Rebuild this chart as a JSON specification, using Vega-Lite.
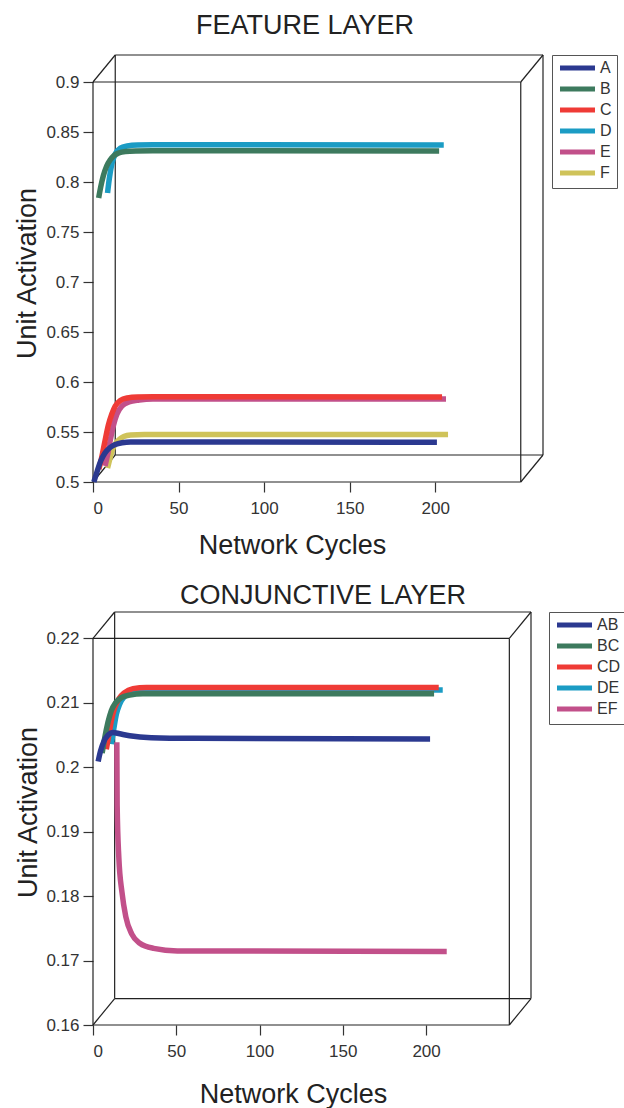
{
  "$schema": "https://vega.github.io/schema/vega-lite/v6.json",
  "padding": {"left": 13, "top": 12, "right": 0, "bottom": 0},
  "autosize": {"type": "pad"},
  "spacing": 23,
  "resolve": {"scale": {"color": "independent"}, "legend": {"color": "independent"}},
  "config": {
    "font": "Liberation Sans",
    "view": {"stroke": null},
    "axis": {"domain": false, "grid": false, "tickSize": 10, "tickColor": "#333", "tickWidth": 1.2, "labelFontSize": 17, "labelColor": "#333", "titleFontSize": 27, "titleFontWeight": "normal", "titleColor": "#222"},
    "axisY": {"labelPadding": 4},
    "axisX": {"labelPadding": 8},
    "title": {"fontSize": 27, "fontWeight": "normal", "color": "#222"},
    "legend": {"title": null, "padding": 5, "strokeColor": "#555", "labelFontSize": 16, "labelColor": "#333", "symbolType": "M-1,0H6", "symbolSize": 100, "symbolStrokeWidth": 5, "labelOffset": 27, "rowPadding": 1}
  },
  "vconcat": [
    {
      "width": 450,
      "height": 427,
      "title": {"text": "FEATURE LAYER", "frame": "group", "anchor": "middle", "dx": -13, "offset": -7, "baseline": "alphabetic"},
      "encoding": {
        "x": {"field": "x", "type": "quantitative", "scale": {"domain": [0, 263], "nice": false, "zero": false}, "axis": {"values": [0, 50, 100, 150, 200], "title": "Network Cycles", "titleX": 199, "titleY": 71, "titleBaseline": "alphabetic"}},
        "y": {"field": "y", "type": "quantitative", "scale": {"domain": [0.5, 0.927], "nice": false, "zero": false}, "axis": {"values": [0.5, 0.55, 0.6, 0.65, 0.7, 0.75, 0.8, 0.85, 0.9], "format": "~g", "title": "Unit Activation", "titleX": -58, "titleY": 218, "titleBaseline": "alphabetic"}}
      },
      "layer": [
        {
          "data": {"values": [
            {"x": 0, "y": 0.5, "x2": 250, "y2": 0.5},
            {"x": 0, "y": 0.9, "x2": 250, "y2": 0.9},
            {"x": 0, "y": 0.5, "x2": 0, "y2": 0.9},
            {"x": 250, "y": 0.5, "x2": 250, "y2": 0.9},
            {"x": 13, "y": 0.527, "x2": 263, "y2": 0.527},
            {"x": 13, "y": 0.927, "x2": 263, "y2": 0.927},
            {"x": 13, "y": 0.527, "x2": 13, "y2": 0.927},
            {"x": 263, "y": 0.527, "x2": 263, "y2": 0.927},
            {"x": 0, "y": 0.5, "x2": 13, "y2": 0.527},
            {"x": 0, "y": 0.9, "x2": 13, "y2": 0.927},
            {"x": 250, "y": 0.5, "x2": 263, "y2": 0.527},
            {"x": 250, "y": 0.9, "x2": 263, "y2": 0.927}
          ]},
          "mark": {"type": "rule", "color": "#222", "strokeWidth": 1.2},
          "encoding": {"x2": {"field": "x2"}, "y2": {"field": "y2"}}
        },
        {
          "data": {"values": [
            {"s": "F", "x": 8.5, "y": 0.514}, {"s": "F", "x": 10, "y": 0.524}, {"s": "F", "x": 11.5, "y": 0.533}, {"s": "F", "x": 13, "y": 0.538}, {"s": "F", "x": 15, "y": 0.542}, {"s": "F", "x": 18, "y": 0.5455}, {"s": "F", "x": 22, "y": 0.547}, {"s": "F", "x": 30, "y": 0.5474}, {"s": "F", "x": 207.5, "y": 0.5474},
            {"s": "E", "x": 7, "y": 0.516}, {"s": "E", "x": 8.5, "y": 0.527}, {"s": "E", "x": 10, "y": 0.541}, {"s": "E", "x": 12, "y": 0.557}, {"s": "E", "x": 14, "y": 0.568}, {"s": "E", "x": 17, "y": 0.576}, {"s": "E", "x": 21, "y": 0.58}, {"s": "E", "x": 27, "y": 0.582}, {"s": "E", "x": 35, "y": 0.583}, {"s": "E", "x": 206.3, "y": 0.583},
            {"s": "D", "x": 8.5, "y": 0.789}, {"s": "D", "x": 9.5, "y": 0.803}, {"s": "D", "x": 11, "y": 0.818}, {"s": "D", "x": 13, "y": 0.828}, {"s": "D", "x": 16, "y": 0.834}, {"s": "D", "x": 20, "y": 0.836}, {"s": "D", "x": 26, "y": 0.837}, {"s": "D", "x": 35, "y": 0.8372}, {"s": "D", "x": 205, "y": 0.837},
            {"s": "C", "x": 3.5, "y": 0.513}, {"s": "C", "x": 5, "y": 0.524}, {"s": "C", "x": 7, "y": 0.541}, {"s": "C", "x": 9, "y": 0.557}, {"s": "C", "x": 11, "y": 0.568}, {"s": "C", "x": 13, "y": 0.576}, {"s": "C", "x": 16, "y": 0.5815}, {"s": "C", "x": 20, "y": 0.584}, {"s": "C", "x": 26, "y": 0.585}, {"s": "C", "x": 35, "y": 0.5852}, {"s": "C", "x": 204, "y": 0.585},
            {"s": "B", "x": 3.3, "y": 0.784}, {"s": "B", "x": 4.5, "y": 0.795}, {"s": "B", "x": 6, "y": 0.806}, {"s": "B", "x": 8, "y": 0.816}, {"s": "B", "x": 10, "y": 0.822}, {"s": "B", "x": 12, "y": 0.826}, {"s": "B", "x": 15, "y": 0.829}, {"s": "B", "x": 19, "y": 0.8305}, {"s": "B", "x": 25, "y": 0.831}, {"s": "B", "x": 35, "y": 0.8312}, {"s": "B", "x": 202.3, "y": 0.831},
            {"s": "A", "x": 0.5, "y": 0.5}, {"s": "A", "x": 2.5, "y": 0.511}, {"s": "A", "x": 4.5, "y": 0.521}, {"s": "A", "x": 7, "y": 0.529}, {"s": "A", "x": 10, "y": 0.5345}, {"s": "A", "x": 13, "y": 0.5375}, {"s": "A", "x": 17, "y": 0.5393}, {"s": "A", "x": 22, "y": 0.54}, {"s": "A", "x": 201, "y": 0.5398}
          ]},
          "mark": {"type": "line", "strokeWidth": 5.5, "interpolate": "monotone", "strokeCap": "butt"},
          "encoding": {
            "color": {"field": "s", "type": "nominal", "scale": {"domain": ["A", "B", "C", "D", "E", "F"], "range": ["#2b3990", "#3d7a5e", "#ef3b36", "#1b9cc4", "#c2508a", "#cfc35a"]}, "legend": {"offset": 9}}
          }
        }
      ]
    },
    {
      "width": 438,
      "height": 413,
      "title": {"text": "CONJUNCTIVE LAYER", "frame": "group", "anchor": "middle", "dx": 11, "offset": -19.5, "baseline": "alphabetic"},
      "encoding": {
        "x": {"field": "x", "type": "quantitative", "scale": {"domain": [0, 263], "nice": false, "zero": false}, "axis": {"values": [0, 50, 100, 150, 200], "title": "Network Cycles", "titleX": 200, "titleY": 77.7, "titleBaseline": "alphabetic"}},
        "y": {"field": "y", "type": "quantitative", "scale": {"domain": [0.16, 0.2241], "nice": false, "zero": false}, "axis": {"values": [0.16, 0.17, 0.18, 0.19, 0.2, 0.21, 0.22], "format": "~g", "title": "Unit Activation", "titleX": -57, "titleY": 200, "titleBaseline": "alphabetic"}}
      },
      "layer": [
        {
          "data": {"values": [
            {"x": 0, "y": 0.16, "x2": 250, "y2": 0.16},
            {"x": 0, "y": 0.22, "x2": 250, "y2": 0.22},
            {"x": 0, "y": 0.16, "x2": 0, "y2": 0.22},
            {"x": 250, "y": 0.16, "x2": 250, "y2": 0.22},
            {"x": 13, "y": 0.1641, "x2": 263, "y2": 0.1641},
            {"x": 13, "y": 0.2241, "x2": 263, "y2": 0.2241},
            {"x": 13, "y": 0.1641, "x2": 13, "y2": 0.2241},
            {"x": 263, "y": 0.1641, "x2": 263, "y2": 0.2241},
            {"x": 0, "y": 0.16, "x2": 13, "y2": 0.1641},
            {"x": 0, "y": 0.22, "x2": 13, "y2": 0.2241},
            {"x": 250, "y": 0.16, "x2": 263, "y2": 0.1641},
            {"x": 250, "y": 0.22, "x2": 263, "y2": 0.2241}
          ]},
          "mark": {"type": "rule", "color": "#222", "strokeWidth": 1.2},
          "encoding": {"x2": {"field": "x2"}, "y2": {"field": "y2"}}
        },
        {
          "data": {"values": [
            {"s": "EF", "x": 14.3, "y": 0.2039}, {"s": "EF", "x": 14.5, "y": 0.1941}, {"s": "EF", "x": 15.5, "y": 0.186}, {"s": "EF", "x": 17.4, "y": 0.1806}, {"s": "EF", "x": 19.7, "y": 0.1768}, {"s": "EF", "x": 23.3, "y": 0.1741}, {"s": "EF", "x": 28.1, "y": 0.1727}, {"s": "EF", "x": 36.4, "y": 0.1719}, {"s": "EF", "x": 50.7, "y": 0.1715}, {"s": "EF", "x": 212.4, "y": 0.1714},
            {"s": "DE", "x": 11, "y": 0.2036}, {"s": "DE", "x": 12.5, "y": 0.206}, {"s": "DE", "x": 14, "y": 0.2082}, {"s": "DE", "x": 16, "y": 0.2098}, {"s": "DE", "x": 19, "y": 0.211}, {"s": "DE", "x": 23, "y": 0.2117}, {"s": "DE", "x": 30, "y": 0.212}, {"s": "DE", "x": 40, "y": 0.2121}, {"s": "DE", "x": 210, "y": 0.212},
            {"s": "CD", "x": 8, "y": 0.2028}, {"s": "CD", "x": 9.5, "y": 0.205}, {"s": "CD", "x": 11, "y": 0.2072}, {"s": "CD", "x": 13, "y": 0.2092}, {"s": "CD", "x": 15.5, "y": 0.2106}, {"s": "CD", "x": 19, "y": 0.2116}, {"s": "CD", "x": 24, "y": 0.2122}, {"s": "CD", "x": 32, "y": 0.2124}, {"s": "CD", "x": 207.6, "y": 0.2124},
            {"s": "BC", "x": 5.5, "y": 0.2022}, {"s": "BC", "x": 7, "y": 0.2045}, {"s": "BC", "x": 9, "y": 0.207}, {"s": "BC", "x": 11, "y": 0.2088}, {"s": "BC", "x": 13.5, "y": 0.21}, {"s": "BC", "x": 17, "y": 0.2108}, {"s": "BC", "x": 22, "y": 0.2112}, {"s": "BC", "x": 30, "y": 0.2114}, {"s": "BC", "x": 204.8, "y": 0.2114},
            {"s": "AB", "x": 3.1, "y": 0.2009}, {"s": "AB", "x": 4.5, "y": 0.2025}, {"s": "AB", "x": 6.5, "y": 0.204}, {"s": "AB", "x": 9, "y": 0.205}, {"s": "AB", "x": 12, "y": 0.2054}, {"s": "AB", "x": 16, "y": 0.2052}, {"s": "AB", "x": 22, "y": 0.2049}, {"s": "AB", "x": 35, "y": 0.2046}, {"s": "AB", "x": 60, "y": 0.2045}, {"s": "AB", "x": 202.4, "y": 0.2044}
          ]},
          "mark": {"type": "line", "strokeWidth": 5.5, "interpolate": "monotone", "strokeCap": "butt"},
          "encoding": {
            "color": {"field": "s", "type": "nominal", "scale": {"domain": ["AB", "BC", "CD", "DE", "EF"], "range": ["#2b3990", "#3d7a5e", "#ef3b36", "#1b9cc4", "#c2508a"]}, "legend": {"offset": 18}}
          }
        }
      ]
    }
  ]
}
